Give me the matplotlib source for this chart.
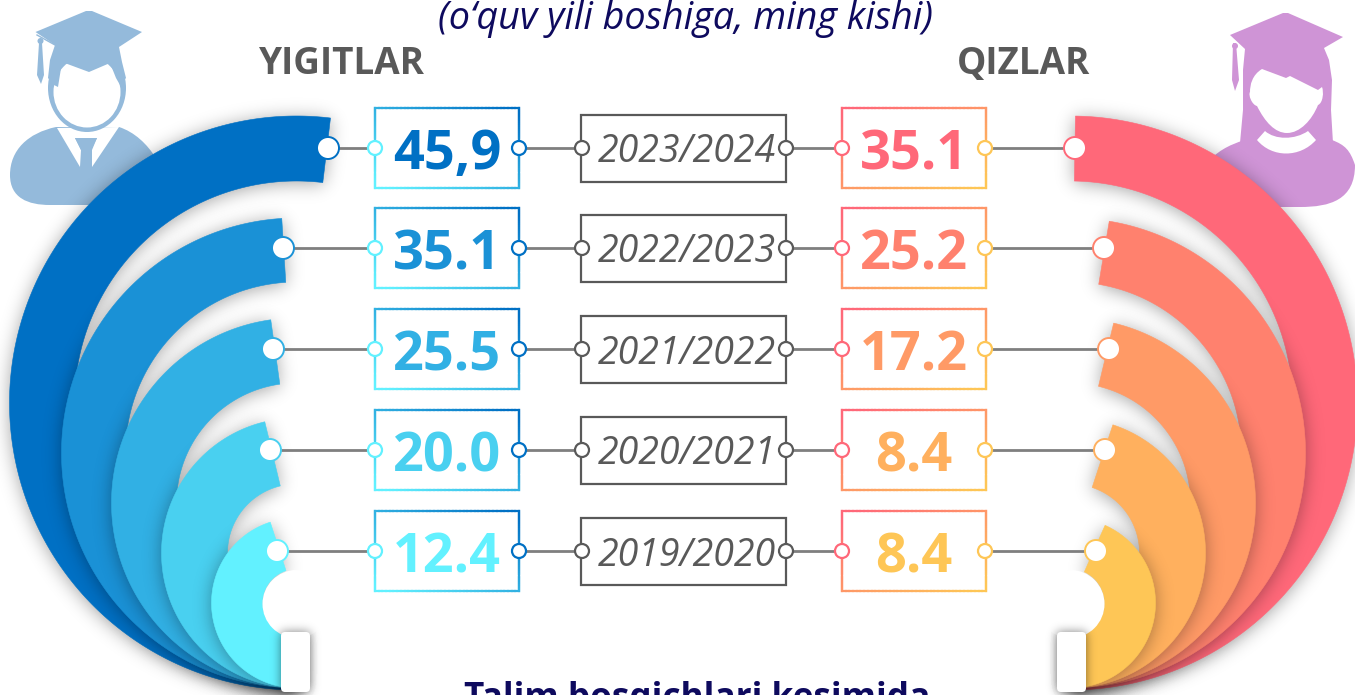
import matplotlib
matplotlib.use('Agg')
import matplotlib.pyplot as plt
import numpy as np
from matplotlib.collections import LineCollection
from matplotlib.patches import Circle, Ellipse, FancyBboxPatch, PathPatch, Polygon
from matplotlib.path import Path

plt.rcParams['font.family'] = ['Open Sans', 'DejaVu Sans']

W, H = 1355, 695

# chart content
years = ['2023/2024', '2022/2023', '2021/2022', '2020/2021', '2019/2020']
boys = ['45,9', '35.1', '25.5', '20.0', '12.4']
girls = ['35.1', '25.2', '17.2', '8.4', '8.4']
title = '(o‘quv yili boshiga, ming kishi)'
footer = 'Talim bosqichlari kesimida'

boys_colors = ['#0070C4', '#1A91D6', '#31B0E4', '#49D0F0', '#62F1FF']
girls_colors = ['#FF6879', '#FF816E', '#FF9A66', '#FFB05E', '#FEC656']
GREY = '#595959'
LINE = '#7F7F7F'
NAVY = '#0E0A5E'
MAN = '#94BADB'
WOMAN = '#CF94D6'

# layout in pixels
row_y = [148, 248, 349, 450, 551]
ring_cy = [403, 453, 503, 553, 603]
ring_outer = [287, 235, 185, 135, 85]
ring_inner = [222, 171, 120, 69, 34]
left_cx, right_cx = 296.5, 1070.5
left_end = [83.2, 93.6, 98, 103.6, 108]
right_end = [89, 80.5, 76.5, 71.7, 66]
left_knob = [328, 283, 273, 270, 277]
right_knob = [1075, 1104, 1109, 1105, 1096]

fig = plt.figure(figsize=(W / 100, H / 100), dpi=100)
ax = fig.add_axes([0, 0, 1, 1])
ax.set_xlim(0, W)
ax.set_ylim(H, 0)
ax.axis('off')

z = [1]


def nz():
    z[0] += 1
    return z[0]


gx, gy = np.meshgrid(np.arange(W) + 0.5, np.arange(H) + 0.5)
grid = np.column_stack([gx.ravel(), gy.ravel()])


def shadow(verts, sigma=9, alpha=0.36, dy=2):
    # soft shadow: polygon mask blurred in the frequency domain
    mask = Path(verts).contains_points(grid).reshape(H, W).astype(float)
    mask = np.roll(mask, dy, axis=0)
    pad = 60
    f = np.fft.rfft2(mask, s=(H + pad, W + pad))
    fy = np.fft.fftfreq(H + pad)[:, None]
    fx = np.fft.rfftfreq(W + pad)[None, :]
    f *= np.exp(-2 * np.pi ** 2 * sigma ** 2 * (fx ** 2 + fy ** 2))
    blur = np.fft.irfft2(f, s=(H + pad, W + pad))[:H, :W]
    rgba = np.zeros((H, W, 4))
    rgba[..., 3] = np.clip(blur, 0, 1) * alpha
    ax.imshow(rgba, extent=(0, W, H, 0), zorder=nz(), aspect='auto', interpolation='bilinear')


def ring(cx, cy, r_out, r_in, end, start, color):
    t1 = np.radians(np.linspace(start, end, 300))
    t2 = t1[::-1]
    outer = np.column_stack([cx + r_out * np.cos(t1), cy - r_out * np.sin(t1)])
    inner = np.column_stack([cx + r_in * np.cos(t2), cy - r_in * np.sin(t2)])
    verts = np.vstack([outer, inner])
    shadow(verts)
    ax.add_patch(Polygon(verts, closed=True, fc=color, ec=color, lw=0.4, zorder=nz()))


def bez(*cmds):
    # small helper for icon outlines
    verts, codes = [], []
    for c in cmds:
        if len(c) == 1:
            verts.append(c[0])
            codes.append(Path.LINETO)
        else:
            verts.extend(c)
            codes.extend([Path.CURVE4] * 3)
    codes[0] = Path.MOVETO
    verts.append(verts[0])
    codes.append(Path.CLOSEPOLY)
    return Path(verts, codes)


def gradient_box(x0, y0, x1, y1, c_start, c_end, diagonal):
    # box border whose colour runs across the diagonal of the box
    c0 = np.array(matplotlib.colors.to_rgb(c_start))
    c1 = np.array(matplotlib.colors.to_rgb(c_end))
    pts = []
    for a, b in [((x0, y0), (x1, y0)), ((x1, y0), (x1, y1)), ((x1, y1), (x0, y1)), ((x0, y1), (x0, y0))]:
        s = np.linspace(0, 1, 40)
        pts.append(np.column_stack([a[0] + (b[0] - a[0]) * s, a[1] + (b[1] - a[1]) * s]))
    segs, cols = [], []
    for p in pts:
        for i in range(len(p) - 1):
            segs.append(p[i:i + 2])
            u = (p[i, 0] - x0) / (x1 - x0)
            v = (p[i, 1] - y0) / (y1 - y0)
            k = (u + v) / 2 if diagonal == 'down' else (1 - u + v) / 2
            k = np.clip(k * 1.1 - 0.05, 0, 1)
            cols.append(c0 + (c1 - c0) * k)
    ax.add_collection(LineCollection(segs, colors=cols, linewidths=1.6, zorder=nz(), capstyle='projecting'))


# man icon
ax.add_patch(PathPatch(bez([(56, 127)], [(28, 133), (10, 150), (10, 175)], [(10, 198), (28, 205), (50, 205)],
                           [(170, 205)], [(170, 175), (150, 137), (119, 127)]), fc=MAN, ec='none', zorder=nz()))
ax.add_patch(Polygon([(57, 128), (80, 167), (81, 150), (75, 138), (97, 138), (91, 150), (92, 167), (119, 127)],
                     fc='white', ec='none', zorder=nz()))
ax.add_patch(Polygon([(75, 138), (97, 138), (92, 150), (92, 167), (81, 167), (81, 150)], fc=MAN, ec='none', zorder=nz()))
ax.add_patch(Ellipse((87, 88), 78, 88, fc=MAN, ec='none', zorder=nz()))
ax.add_patch(Ellipse((87, 92), 67, 71, fc='white', ec='none', zorder=nz()))
ax.add_patch(Polygon([(35.5, 32), (86, 11), (92, 11), (142, 32), (119, 47), (122, 62), (126, 78), (120, 85), (116, 78),
                      (110, 63), (89, 72), (62, 62), (58, 87), (54, 85), (48, 78), (50, 60), (55, 45)],
                     fc=MAN, ec='none', zorder=nz()))
ax.add_patch(Polygon([(39, 43), (42, 43), (44, 75), (41, 84), (37, 75)], fc=MAN, ec='none', zorder=nz()))
ax.add_patch(Circle((40.5, 41), 3, fc=MAN, ec='none', zorder=nz()))
ax.plot([37, 55], [35, 45], color=MAN, lw=1, zorder=nz())

# woman icon
ax.add_patch(PathPatch(bez([(1245, 140)], [(1228, 145), (1216, 152), (1205, 165)], [(1205, 207)], [(1300, 207)],
                           [(1330, 207), (1355, 200), (1355, 165)], [(1350, 150), (1345, 145), (1332, 140)]),
                       fc=WOMAN, ec='none', zorder=nz()))
ax.add_patch(Polygon([(1230, 35), (1283, 13), (1288, 13), (1343, 37), (1324, 48), (1329, 60), (1332, 80), (1331, 110),
                      (1333, 143), (1285, 160), (1240, 143), (1243, 110), (1243, 70), (1245, 49)],
                     fc=WOMAN, ec='none', zorder=nz()))
ax.add_patch(PathPatch(bez([(1262, 69)], [(1252, 75), (1250, 85), (1250, 92)], [(1248, 95), (1252, 105), (1257, 106)],
                           [(1265, 122), (1275, 133), (1287, 133)], [(1300, 133), (1312, 120), (1318, 105)],
                           [(1323, 103), (1324, 92), (1322, 87)], [(1318, 90)], [(1290, 76)], [(1286, 78)]),
                       fc='white', ec='none', zorder=nz()))
ax.add_patch(PathPatch(bez([(1265, 131)], [(1275, 140), (1295, 140), (1308, 131)], [(1316, 140)],
                           [(1300, 158), (1272, 158), (1257, 140)]), fc='white', ec='none', zorder=nz()))
ax.add_patch(Polygon([(1233, 43), (1236, 43), (1239, 80), (1235, 91), (1232, 80)], fc=WOMAN, ec='none', zorder=nz()))
ax.add_patch(Circle((1235, 46), 3, fc=WOMAN, ec='none', zorder=nz()))

# rings, largest first
for i in range(5):
    ring(left_cx, ring_cy[i], ring_outer[i], ring_inner[i], left_end[i], 270, boys_colors[i])
for i in range(5):
    ring(right_cx, ring_cy[i], ring_outer[i], ring_inner[i], right_end[i], -90, girls_colors[i])

# white hole and the small tabs at the foot of the fans
for cx in (left_cx, right_cx):
    ax.add_patch(Circle((cx, 604), 34, fc='white', ec='none', zorder=nz()))

for x0 in (281, 1057):
    shadow(np.array([(x0, 632), (x0 + 29, 632), (x0 + 29, 692), (x0, 692)]), sigma=5, alpha=0.5, dy=0)
    ax.add_patch(FancyBboxPatch((x0 + 4, 636), 21, 52, boxstyle='round,pad=4,rounding_size=4',
                                fc='white', ec='none', zorder=nz()))

# rows: connector lines, boxes, circles, text
for i in range(5):
    y = row_y[i]
    ax.plot([left_knob[i], right_knob[i]], [y, y], color=LINE, lw=2, zorder=nz(), solid_capstyle='butt')

    ax.add_patch(plt.Rectangle((375, y - 40.5), 144, 80.5, fc='white', ec='none', zorder=nz()))
    gradient_box(375, y - 40.5, 519, y + 40, boys_colors[0], boys_colors[4], 'x')
    ax.add_patch(plt.Rectangle((581, y - 33.5), 205, 67, fc='white', ec=GREY, lw=1.6, zorder=nz()))
    ax.add_patch(plt.Rectangle((842, y - 40.5), 144, 80.5, fc='white', ec='none', zorder=nz()))
    gradient_box(842, y - 40.5, 986, y + 40, girls_colors[0], girls_colors[4], 'down')

    for cx, col in [(375, boys_colors[4]), (519, boys_colors[0]), (582, GREY), (786, GREY),
                    (842, girls_colors[0]), (985, girls_colors[4])]:
        ax.add_patch(Circle((cx, y), 7, fc='white', ec=col, lw=1.6, zorder=nz()))
    ax.add_patch(Circle((left_knob[i], y), 11, fc='white', ec=boys_colors[i], lw=1.4, zorder=nz()))
    ax.add_patch(Circle((right_knob[i], y), 11, fc='white', ec=girls_colors[i], lw=1.4, zorder=nz()))

    ax.text(447, y + 1, boys[i], color=boys_colors[i], fontsize=39, fontweight='bold', ha='center', va='center_baseline', zorder=nz())
    ax.text(914, y + 1, girls[i], color=girls_colors[i], fontsize=39, fontweight='bold', ha='center', va='center_baseline', zorder=nz())
    ax.text(687, y, years[i], color=GREY, fontsize=27, style='italic', ha='center', va='center_baseline', zorder=nz())

ax.text(341.5, 74, 'YIGITLAR', color=GREY, fontsize=26.6, fontweight='bold', ha='center', va='baseline', zorder=nz())
ax.text(1024, 74, 'QIZLAR', color=GREY, fontsize=26.6, fontweight='bold', ha='center', va='baseline', zorder=nz())
ax.text(686, 29, title, color=NAVY, fontsize=27.2, style='italic', ha='center', va='baseline', zorder=nz())
ax.text(697, 708, footer, color=NAVY, fontsize=25.3, fontweight='bold', ha='center', va='baseline', zorder=nz())

fig.savefig('out.png', dpi=100)
